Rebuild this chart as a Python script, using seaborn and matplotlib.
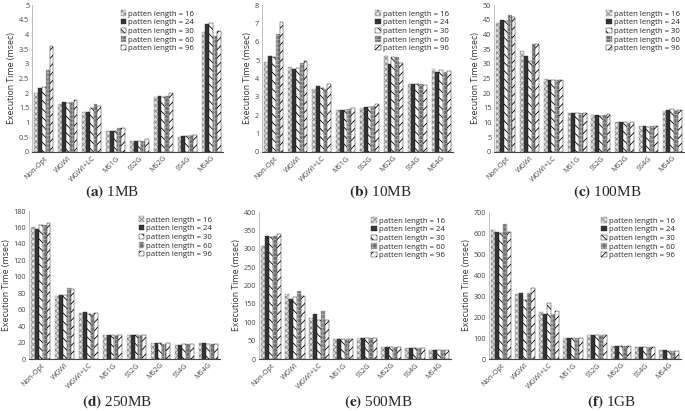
import pandas as pd
import matplotlib
matplotlib.use('Agg')
import matplotlib.pyplot as plt
import seaborn as sns
from matplotlib.ticker import MultipleLocator, FormatStrFormatter

methods = ['Non-Opt', 'WGWI', 'WGWI+LC', 'MS1G', 'SS2G', 'MS2G', 'SS4G', 'MS4G']
patterns = ['patten length = 16', 'patten length = 24', 'patten length = 30',
            'patten length = 60', 'patten length = 96']

# waktu eksekusi (msec), satu baris per metode, kolom = panjang pola 16/24/30/60/96
t_1mb = [[2.02, 2.17, 2.22, 2.80, 3.60],
         [1.62, 1.70, 1.67, 1.71, 1.78],
         [1.35, 1.36, 1.48, 1.63, 1.55],
         [0.72, 0.72, 0.73, 0.81, 0.83],
         [0.36, 0.38, 0.37, 0.39, 0.43],
         [1.88, 1.91, 1.86, 1.92, 2.00],
         [0.50, 0.53, 0.53, 0.57, 0.57],
         [4.08, 4.35, 4.38, 3.93, 4.13]]
t_10mb = [[4.90, 5.20, 5.15, 6.40, 7.10],
          [4.62, 4.50, 4.55, 4.85, 4.95],
          [3.45, 3.60, 3.50, 3.45, 3.70],
          [2.30, 2.30, 2.30, 2.35, 2.40],
          [2.42, 2.45, 2.45, 2.50, 2.60],
          [5.20, 4.80, 5.15, 5.15, 4.85],
          [3.70, 3.72, 3.72, 3.68, 3.62],
          [4.50, 4.35, 4.45, 4.35, 4.42]]
t_100mb = [[43.8, 45.0, 44.5, 46.7, 46.0],
           [34.2, 32.5, 31.0, 36.8, 36.8],
           [24.8, 24.5, 24.6, 24.6, 24.6],
           [13.2, 13.3, 13.1, 13.3, 13.4],
           [12.7, 12.6, 12.3, 12.6, 12.8],
           [10.2, 10.3, 10.1, 10.0, 10.3],
           [9.0, 9.0, 8.6, 8.7, 9.0],
           [14.0, 14.3, 14.5, 14.2, 14.2]]
t_250mb = [[161, 158, 163, 163, 166],
           [77, 78, 78, 86, 85],
           [56, 57, 55, 55, 56],
           [29, 29, 29, 29, 29],
           [29, 29, 29, 29, 29],
           [19, 19, 19, 18, 19],
           [17, 17, 18, 18, 18],
           [19, 19, 18, 18, 18]]
t_500mb = [[308, 334, 333, 335, 340],
           [178, 162, 170, 185, 172],
           [111, 123, 106, 130, 105],
           [54, 54, 54, 54, 54],
           [56, 56, 56, 56, 56],
           [33, 34, 34, 33, 34],
           [30, 30, 30, 30, 30],
           [24, 25, 24, 24, 24]]
t_1gb = [[615, 603, 602, 643, 605],
         [310, 316, 280, 313, 340],
         [222, 215, 265, 215, 230],
         [101, 101, 101, 101, 101],
         [112, 112, 112, 112, 112],
         [60, 60, 60, 60, 60],
         [58, 58, 58, 58, 58],
         [41, 41, 40, 40, 40]]

captions = [('(a)', '1MB'), ('(b)', '10MB'), ('(c)', '100MB'),
            ('(d)', '250MB'), ('(e)', '500MB'), ('(f)', '1GB')]
ymax = [5, 8, 50, 180, 400, 700]
ystep = [0.5, 1, 5, 20, 50, 100]

# gaya tiap seri: warna isi, warna arsir, pola arsir
faces = ['#e2e2e2', '#333333', 'white', '#6e6e6e', 'white']
edges = ['#8c8c8c', '#333333', 'black', '#b0b0b0', 'black']
hatches = ['xxxxxx', '', '\\\\\\\\', '++++', '////']

sns.set_style('white')
plt.rcParams['font.family'] = ['Open Sans', 'DejaVu Sans']
plt.rcParams['hatch.linewidth'] = 0.6
plt.rcParams['mathtext.fontset'] = 'stix'

fig = plt.figure(figsize=(6.85, 4.11), dpi=100)
W, H = 685.0, 411.0
# posisi sumbu dalam piksel: kiri, kanan, atas, bawah
boxes = [(32, 223, 5, 152), (262, 453, 5, 152), (494, 684, 5, 152),
         (29, 220, 211, 359), (259, 451, 212, 359), (489, 681, 212, 359)]
leg_x = [0.87, 1.0, 1.0, 0.98, 0.99, 0.99]
cap_x = [112, 380, 607, 117, 378, 612]
cap_y = [192, 192, 192, 402, 402, 402]

all_data = [t_1mb, t_10mb, t_100mb, t_250mb, t_500mb, t_1gb]

for i, tbl in enumerate(all_data):
    l, r, t, b = boxes[i]
    ax = fig.add_axes([l / W, 1 - b / H, (r - l) / W, (b - t) / H])
    rows = []
    for m, vals in zip(methods, tbl):
        for p, v in zip(patterns, vals):
            rows.append({'Metode': m, 'Pola': p, 'Waktu': v})
    df = pd.DataFrame(rows)
    sns.barplot(data=df, x='Metode', y='Waktu', hue='Pola', ax=ax,
                palette=['white'] * 5, width=0.8, legend=False,
                saturation=1, errorbar=None)
    for k, cont in enumerate(ax.containers):
        for bar in cont:
            bar.set_facecolor(faces[k])
            bar.set_edgecolor(edges[k])
            bar.set_hatch(hatches[k])
            bar.set_linewidth(0.3)
    handles = [c.patches[0] for c in ax.containers]
    ax.legend(handles, patterns, loc='upper right', bbox_to_anchor=(leg_x[i], 0.99),
              frameon=False, fontsize=5.6, handlelength=0.7, handleheight=0.7,
              handletextpad=0.3, labelspacing=0.15, borderaxespad=0.1)
    ax.set_ylim(0, ymax[i])
    ax.yaxis.set_major_locator(MultipleLocator(ystep[i]))
    ax.yaxis.set_major_formatter(FormatStrFormatter('%g'))
    ax.set_xlim(-0.5, 7.5)
    ax.set_xlabel('')
    ax.set_ylabel('Execution Time (msec)', fontsize=6.3, color='#333333', labelpad=2)
    ax.tick_params(axis='both', length=0, labelsize=5.2, colors='#444444', pad=2)
    plt.setp(ax.get_xticklabels(), rotation=45, ha='right', rotation_mode='anchor')
    sns.despine(ax=ax)
    ax.spines['left'].set_color('#bfbfbf')
    ax.spines['left'].set_linewidth(0.7)
    ax.spines['bottom'].set_color('#444444')
    ax.spines['bottom'].set_linewidth(0.8)
    fig.text(cap_x[i] / W, 1 - cap_y[i] / H,
             r'$\mathbf{' + captions[i][0] + r'}$ ' + captions[i][1],
             ha='center', va='center', fontsize=11, family='Liberation Serif')

plt.savefig('out.png', dpi=100)
